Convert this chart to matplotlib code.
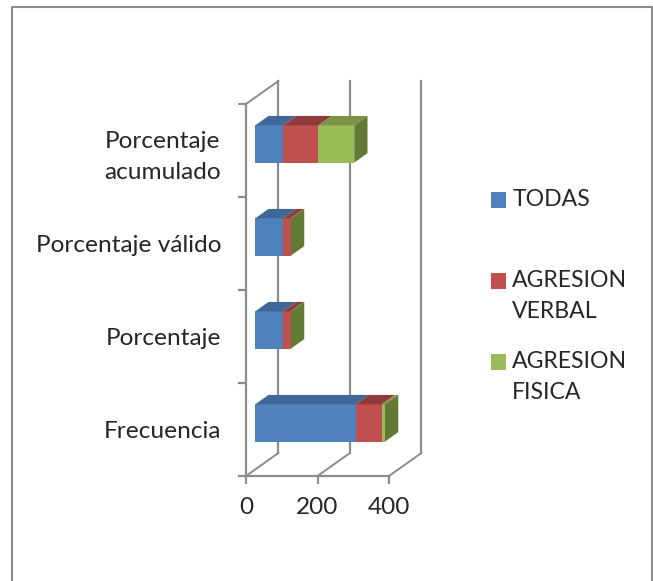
import matplotlib
matplotlib.use("Agg")
import matplotlib.pyplot as plt
from matplotlib.patches import Polygon, Patch, Rectangle
from matplotlib.lines import Line2D
from matplotlib.legend_handler import HandlerPatch

categories = ["Frecuencia", "Porcentaje", "Porcentaje válido", "Porcentaje\nacumulado"]
series_names = ["TODAS\n ", "AGRESION\nVERBAL", "AGRESION\nFISICA"]
todas = [281, 78, 78, 78]
verbal = [73, 21, 21, 99]
fisica = [9, 1, 1, 100]
x_ticks = [0, 200, 400]

front = ["#4F81BD", "#C0504D", "#9BBB59"]
top = ["#3F6797", "#8E3B39", "#7A9346"]
side = ["#3A5F8C", "#8A3836", "#637A35"]
GRID = "#8C8C8C"
TEXT = "#262626"
W, H = 653, 581

plt.rcParams["font.family"] = ["Lato", "DejaVu Sans"]
fig = plt.figure(figsize=(W / 100, H / 100), dpi=100, facecolor="white")
ax = fig.add_axes([246 / W, 1 - 476 / H, (389 - 246) / W, (476 - 104) / H])
ax.set_xlim(0, 400)
ax.set_ylim(0, 4)
ax.patch.set_visible(False)

# depth of the 3-D box in data units
DX, DY = 90.5, 0.247
# bar position inside the box, as fractions of the depth
D0, D1 = 0.285, 0.695
BAR_H = 0.40

for s in ("top", "right"):
    ax.spines[s].set_visible(False)
for s in ("left", "bottom"):
    ax.spines[s].set_color(GRID)
    ax.spines[s].set_linewidth(1.6)

ax.set_xticks(x_ticks)
ax.set_yticks(range(5))
ax.set_yticklabels([])
ax.set_yticks([i + 0.5 for i in range(4)], minor=True)
ax.set_yticklabels(categories, minor=True, multialignment="center")
ax.tick_params(axis="x", which="major", color=GRID, width=1.6, length=6, labelsize=17.6,
               labelcolor=TEXT, pad=9)
ax.tick_params(axis="y", which="major", color=GRID, width=1.6, length=6)
ax.tick_params(axis="y", which="minor", length=0, labelsize=17.6, labelcolor=TEXT, pad=18)
for t in ax.get_yticklabels(minor=True):
    t.set_linespacing(1.55)

# walls
for v in x_ticks:
    ax.add_line(Line2D([v, v + DX], [0, DY], color=GRID, lw=1.4, clip_on=False, zorder=1))
    ax.add_line(Line2D([v + DX, v + DX], [DY, 4 + DY], color=GRID, lw=1.6, clip_on=False, zorder=1))
ax.add_line(Line2D([0, DX], [4, 4 + DY], color=GRID, lw=1.4, clip_on=False, zorder=1))

# bars
for i in range(len(categories)):
    left = 0.0
    vals = [todas[i], verbal[i], fisica[i]]
    x0 = DX * D0
    y0 = i + 0.5 - BAR_H / 2 + DY * D0
    y1 = y0 + BAR_H
    ddx, ddy = DX * (D1 - D0), DY * (D1 - D0)
    for j, v in enumerate(vals):
        a, b = x0 + left, x0 + left + v
        ax.add_patch(Polygon([(a, y0), (b, y0), (b, y1), (a, y1)], fc=front[j], ec="none",
                             clip_on=False, zorder=3))
        ax.add_patch(Polygon([(a, y1), (b, y1), (b + ddx, y1 + ddy), (a + ddx, y1 + ddy)],
                             fc=top[j], ec="none", clip_on=False, zorder=3))
        left += v
    e = x0 + left
    ax.add_patch(Polygon([(e, y0), (e + ddx, y0 + ddy), (e + ddx, y1 + ddy), (e, y1)],
                         fc=side[2], ec="none", clip_on=False, zorder=3))

LEG_SIZE = 16.6
LINE_SPACING = 1.6


def first_line_square(legend, orig_handle, xdescent, ydescent, width, height, fontsize):
    # all legend labels have two lines: lift the swatch to the first one
    return Rectangle((-xdescent, -ydescent + 0.675 * fontsize), width, height)


handles = [Patch(fc=c, ec="none") for c in front]
leg = fig.legend(handles, series_names, loc="upper left", bbox_to_anchor=(491 / W, 1 - 189 / H),
                 bbox_transform=fig.transFigure, frameon=False, fontsize=LEG_SIZE, labelcolor=TEXT,
                 handlelength=0.65, handleheight=0.65, handletextpad=0.27, labelspacing=1.25,
                 borderaxespad=0, borderpad=0,
                 handler_map={Patch: HandlerPatch(patch_func=first_line_square)})
for t in leg.get_texts():
    t.set_linespacing(LINE_SPACING)

# outer chart-area border
BORDER = "#8C8C8C"
fig.add_artist(Line2D([12 / W, 12 / W, 652 / W, 652 / W], [0, 1 - 7 / H, 1 - 7 / H, 0],
                      color=BORDER, lw=1.5, transform=fig.transFigure))

fig.savefig("out.png", dpi=100, facecolor="white")
